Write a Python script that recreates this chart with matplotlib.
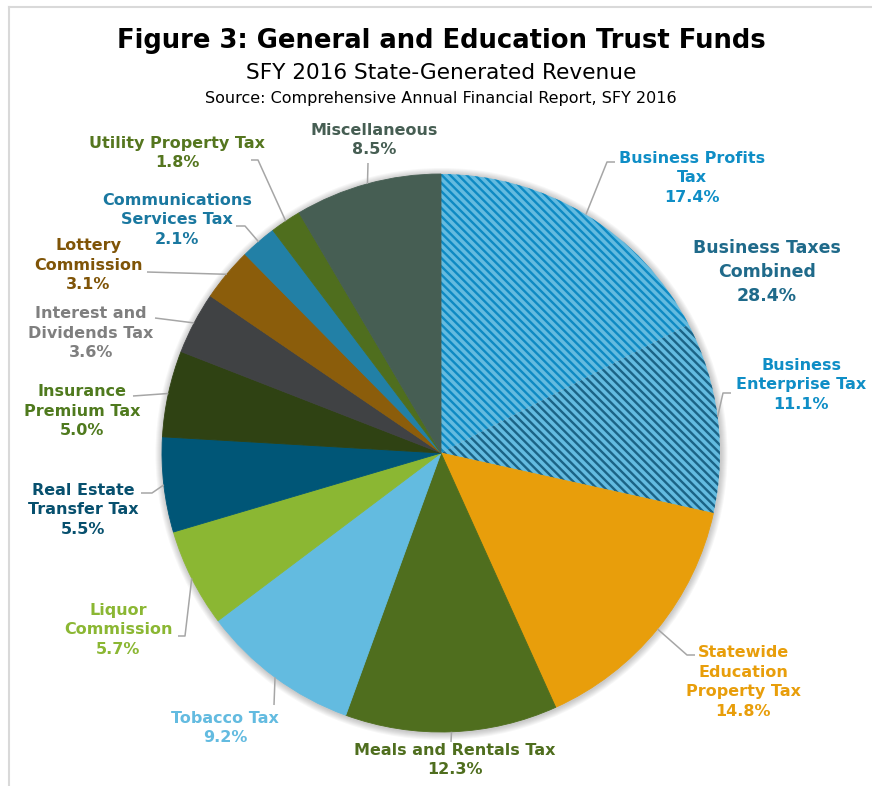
import matplotlib
matplotlib.use("Agg")
import numpy as np
import matplotlib.pyplot as plt
from matplotlib.patches import Circle
from matplotlib.lines import Line2D

W, H = 872, 786

# revenue sources, clockwise from 12 o'clock
sources = ["Business Profits\nTax", "Business\nEnterprise Tax",
           "Statewide\nEducation\nProperty Tax", "Meals and Rentals Tax",
           "Tobacco Tax", "Liquor\nCommission", "Real Estate\nTransfer Tax",
           "Insurance\nPremium Tax", "Interest and\nDividends Tax",
           "Lottery\nCommission", "Communications\nServices Tax",
           "Utility Property Tax", "Miscellaneous"]
shares = [17.4, 11.1, 14.8, 12.3, 9.2, 5.7, 5.5, 5.0, 3.6, 3.1, 2.1, 1.8, 8.5]
combined_name = "Business Taxes\nCombined"
combined_share = 28.4

slice_colors = ["#63BBE0", "#63BBE0", "#E89E0B", "#4F6E1E", "#63BBE0",
                "#8BB733", "#005677", "#2F4213", "#404244", "#8B5D0B",
                "#2280A6", "#4F6E1E", "#465E53"]
stripe_colors = ["#0E8AC3", "#1B6386", None, None, None, None, None,
                 None, None, None, None, None, None]
text_colors = ["#0F8EC6", "#0F8EC6", "#E89E0B", "#4F6E1E", "#63BBE0",
               "#8BB733", "#07506E", "#4F7A1E", "#7F7F7F", "#7F5407",
               "#1A78A0", "#55761F", "#465E53"]

# label block centres and leader-line bends (pixels from top-left)
label_pos = [(692, 178), (801, 385), (743, 682), (455, 760), (225, 728),
             (118, 630), (83, 510), (82, 411), (91, 333), (88, 265),
             (177, 220), (177, 153), (374, 140)]
leader_bends = [[(607, 162), (615, 162)], [(723, 393), (731, 393)],
                [(687, 655), (695, 655)], [(451, 742)], [(274, 705)],
                [(185, 636), (178, 636)], [(152, 493), (141, 493)],
                [(133, 396)], [(155, 318)], [(147, 272)],
                [(245, 226), (236, 226)], [(258, 160), (251, 160)],
                [(368, 163)]]

cx, cy, r = 441, H - 453, 279

plt.rcParams['hatch.linewidth'] = 1.7
fig = plt.figure(figsize=(W / 100, H / 100), dpi=100)
ax = fig.add_axes([0, 0, 1, 1])

# soft shadow round the pie
for k in range(1, 8):
    ax.add_patch(Circle((cx + 0.5, cy - 1), r + k, color="black",
                        alpha=0.03, lw=0, zorder=0))

wedges, _ = ax.pie(shares, colors=slice_colors, startangle=90,
                   counterclock=False, radius=r, center=(cx, cy),
                   wedgeprops=dict(linewidth=0.6))
for w, fc, hc in zip(wedges, slice_colors, stripe_colors):
    w.set_zorder(2)
    if hc is None:
        w.set_edgecolor(fc)
    else:
        w.set_edgecolor(hc)
        w.set_hatch("\\\\\\\\")
        w.set_linewidth(0)

ax.set_xlim(0, W)
ax.set_ylim(0, H)
ax.set_aspect("equal")
ax.axis("off")

for w, name, val, col, (tx, ty), bends in zip(wedges, sources, shares,
                                              text_colors, label_pos,
                                              leader_bends):
    mid = np.deg2rad((w.theta1 + w.theta2) / 2)
    xs = [cx + r * np.cos(mid)] + [b[0] for b in bends]
    ys = [cy + r * np.sin(mid)] + [H - b[1] for b in bends]
    ax.plot(xs, ys, color="#A6A6A6", lw=1.1, zorder=3,
            solid_capstyle="butt")
    ax.text(tx, H - ty, f"{name}\n{val:.1f}%", color=col, ha="center",
            va="center", fontsize=11.5, fontweight="bold", linespacing=1.38,
            family="DejaVu Sans", zorder=4)

ax.text(767, H - 272, f"{combined_name}\n{combined_share:.1f}%",
        color="#1F6A8A", ha="center", va="center", fontsize=12.5,
        fontweight="bold", linespacing=1.4, family="DejaVu Sans")

fig.text(441 / W, 1 - 41 / H, "Figure 3: General and Education Trust Funds",
         ha="center", va="center", fontsize=18.6, fontweight="bold",
         color="black")
fig.text(441 / W, 1 - 73 / H, "SFY 2016 State-Generated Revenue",
         ha="center", va="center", fontsize=15.6, color="black")
fig.text(441 / W, 1 - 99 / H,
         "Source: Comprehensive Annual Financial Report, SFY 2016",
         ha="center", va="center", fontsize=11.5, color="black")

# panel border
fig.add_artist(Line2D([9 / W, 9 / W], [0, 1 - 7 / H], transform=fig.transFigure,
                      color="#D9D9D9", lw=1.5))
fig.add_artist(Line2D([9 / W, 1], [1 - 7 / H, 1 - 7 / H],
                      transform=fig.transFigure, color="#D9D9D9", lw=1.5))

fig.savefig("out.png", dpi=100)
